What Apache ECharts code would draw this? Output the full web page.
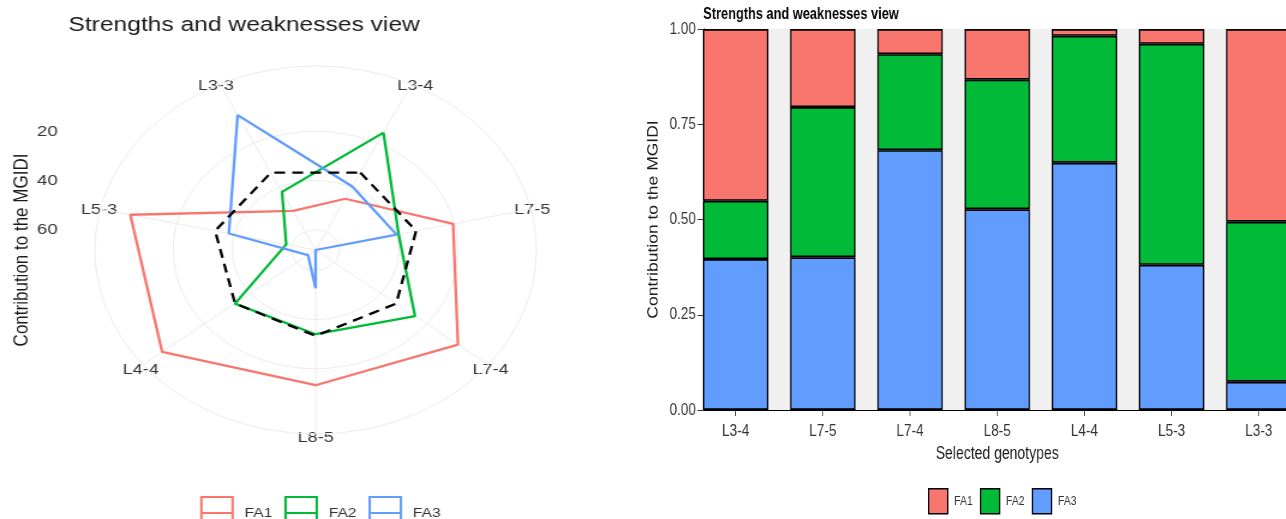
<!DOCTYPE html>
<html>
<head>
<meta charset="utf-8">
<script src="https://cdn.jsdelivr.net/npm/echarts@6/dist/echarts.min.js"></script>
<style>
html, body { margin: 0; padding: 0; width: 1286px; height: 519px; overflow: hidden; background: #ffffff; }
#left { position: absolute; left: 0; top: 0; width: 534px; height: 519px; transform: scaleX(1.2); transform-origin: 0 0; }
#right { position: absolute; left: 640px; top: 0; width: 828px; height: 519px; transform: scaleX(0.8); transform-origin: 0 0; }
</style>
</head>
<body>
<div id="left"></div>
<div id="right"></div>
<script>
// ---------------- data ----------------
const genotypes = ['L3-4', 'L7-5', 'L7-4', 'L8-5', 'L4-4', 'L5-3', 'L3-3'];
const factors = ['FA1', 'FA2', 'FA3'];
const fa1 = [0.451, 0.205, 0.066, 0.133, 0.018, 0.039, 0.506];
const fa2 = [0.153, 0.394, 0.252, 0.340, 0.333, 0.580, 0.420];
const fa3 = [0.396, 0.401, 0.682, 0.527, 0.649, 0.381, 0.074];
const radialTicks = [20, 40, 60];
const barTicks = [0, 0.25, 0.5, 0.75, 1];
const colors = ['#F8766D', '#00BA38', '#619CFF'];
const FONT = "'Liberation Sans', Arial, sans-serif";

// ---------------- derived ----------------
const faData = [fa1, fa2, fa3];
const pctData = faData.map(a => a.map(v => v * 100));
const allPct = pctData.flat();
const rMax = Math.max(...allPct);
const rMin = Math.min(...allPct);
const rLower = rMin - (rMax - rMin) / 8;      // data range fills 0.40 of 0.45 (outer circle)
const expected = 100 / factors.length;        // theoretical equal contribution
const angleIdx = genotypes.map((_, i) => i);
// polygon: one point per genotype, closed by returning to the first one a full turn later
const closedLoop = arr => arr.map((v, i) => [v, i]).concat([[arr[0], genotypes.length]]);

// ---------------- left: polar "radar" ----------------
const left = echarts.init(document.getElementById('left'));
const leftSeries = pctData.map((arr, i) => ({
  name: factors[i], type: 'line', coordinateSystem: 'polar', clip: false,
  data: closedLoop(arr), symbol: 'none', silent: true,
  lineStyle: { color: colors[i], width: 2.3 }, itemStyle: { color: colors[i] }
}));
leftSeries.push({
  name: 'expected', type: 'line', coordinateSystem: 'polar', clip: false,
  data: closedLoop(genotypes.map(() => expected)), symbol: 'none', silent: true,
  lineStyle: { color: '#000000', width: 2.3, type: [9, 6] }, itemStyle: { color: '#000000' }
});
left.setOption({
  animation: false,
  textStyle: { fontFamily: FONT },
  title: {
    text: 'Strengths and weaknesses view', left: 57, top: 15, padding: 0,
    textStyle: { fontFamily: FONT, fontSize: 20.5, fontWeight: 'normal', color: '#1a1a1a' }
  },
  polar: { center: [263, 250], radius: 184 },
  angleAxis: {
    type: 'value', min: 0, max: genotypes.length,
    startAngle: 90 - 180 / genotypes.length, clockwise: true,
    axisLine: { show: true, lineStyle: { color: '#EBEBEB', width: 1 } },
    axisTick: { show: false, customValues: angleIdx },
    axisLabel: {
      customValues: angleIdx, formatter: v => genotypes[Math.round(v)],
      color: '#333333', fontSize: 15, margin: -4, padding: [0, -10, -6, -10], fontFamily: FONT
    },
    splitLine: { show: true, lineStyle: { color: '#EBEBEB', width: 1 } }
  },
  radiusAxis: {
    type: 'value', inverse: true, min: rLower, max: rMax,
    axisLine: { show: false },
    axisTick: { show: false, customValues: radialTicks },
    axisLabel: { show: false },
    splitLine: { show: true, lineStyle: { color: '#EBEBEB', width: 1 } }
  },
  grid: { left: 52, top: 66, width: 1, height: 368 },
  xAxis: { type: 'value', show: false },
  yAxis: {
    type: 'value', inverse: true, min: rLower, max: 2 * rMax - rLower,
    axisLine: { show: false }, axisTick: { show: false }, splitLine: { show: false },
    axisLabel: { customValues: radialTicks, margin: 4, fontSize: 15.5, color: '#333333', fontFamily: FONT },
    name: 'Contribution to the MGIDI', nameLocation: 'middle', nameGap: 24,
    nameTextStyle: { fontSize: 17, color: '#1a1a1a', fontFamily: FONT }
  },
  legend: {
    data: factors.map((f, i) => ({
      name: f,
      icon: 'path://M0,0L26,0L26,32L0,32ZM0,16L26,16',
      itemStyle: { color: 'rgba(0,0,0,0)', borderColor: colors[i], borderWidth: 2 }
    })),
    left: 'center', top: 496, padding: 0, itemWidth: 26, itemHeight: 32, itemGap: 10,
    selectedMode: false,
    textStyle: { fontSize: 13, color: '#333333', fontFamily: FONT, padding: [0, 0, 0, 5] }
  },
  series: leftSeries
});

// ---------------- right: stacked bars ----------------
const right = echarts.init(document.getElementById('right'));
const stackOrder = [2, 1, 0]; // FA3 bottom, FA2 middle, FA1 top
right.setOption({
  animation: false,
  textStyle: { fontFamily: FONT },
  title: {
    text: 'Strengths and weaknesses view', left: 79, top: 7, padding: 0,
    textStyle: { fontFamily: FONT, fontSize: 16, fontWeight: 'bold', color: '#000000' }
  },
  grid: [
    { left: 76, top: 29, right: 0, height: 381, show: true, backgroundColor: '#F0F0F0', borderWidth: 0 },
    { left: 65.1, top: 29, right: 0, height: 381 }
  ],
  xAxis: [
    {
      gridIndex: 0, type: 'value', min: 0, max: 1,
      axisLine: { show: true, lineStyle: { color: '#000000', width: 1 } },
      axisTick: { show: false }, axisLabel: { show: false }, splitLine: { show: false }
    },
    {
      gridIndex: 1, type: 'category', data: genotypes, boundaryGap: true,
      name: 'Selected genotypes', nameLocation: 'middle', nameGap: 34,
      nameTextStyle: { fontSize: 17.5, color: '#1a1a1a', fontFamily: FONT },
      axisLine: { show: false },
      axisTick: { show: true, alignWithLabel: true, length: 6, lineStyle: { color: '#333333' } },
      axisLabel: { margin: 13, fontSize: 17, color: '#333333', fontFamily: FONT },
      splitLine: { show: false }
    }
  ],
  yAxis: [
    {
      gridIndex: 0, type: 'value', min: barTicks[0], max: barTicks[barTicks.length - 1], interval: barTicks[1] - barTicks[0],
      axisLine: { show: true, lineStyle: { color: '#000000', width: 1 } },
      axisTick: { show: true, length: 8, lineStyle: { color: '#333333' } },
      axisLabel: { formatter: v => v.toFixed(2), fontSize: 17, color: '#333333', margin: 10, fontFamily: FONT },
      splitLine: { show: false },
      name: 'Contribution to the MGIDI', nameLocation: 'middle', nameGap: 34,
      nameTextStyle: { fontSize: 17.5, color: '#1a1a1a', fontFamily: FONT }
    },
    {
      gridIndex: 1, type: 'value', min: barTicks[0], max: barTicks[barTicks.length - 1], show: false
    }
  ],
  legend: {
    data: factors.map((f, i) => ({ name: f, itemStyle: { color: colors[i], borderColor: '#000000', borderWidth: 1.5 } })),
    left: 360, top: 488, padding: 0, icon: 'rect', itemWidth: 24, itemHeight: 25, itemGap: 9,
    selectedMode: false,
    textStyle: { fontSize: 13, color: '#333333', fontFamily: FONT, padding: [0, 0, 0, 3] }
  },
  series: stackOrder.map(k => ({
    name: factors[k], type: 'bar', stack: 'total', barWidth: '75%',
    xAxisIndex: 1, yAxisIndex: 1,
    data: faData[k],
    itemStyle: { color: colors[k], borderColor: '#000000', borderWidth: 1.7 }
  }))
});
</script>
</body>
</html>
